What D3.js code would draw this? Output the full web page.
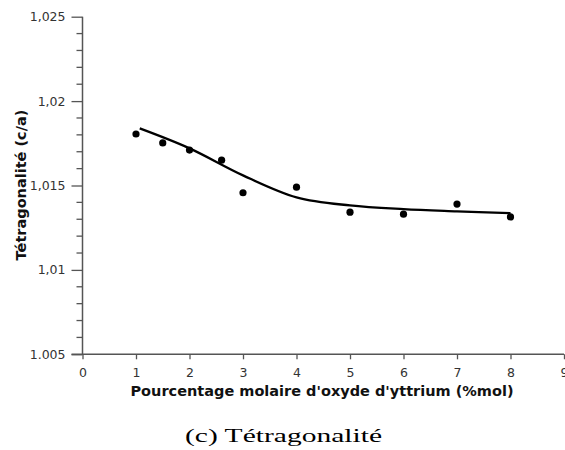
<!DOCTYPE html>
<html><head><meta charset="utf-8">
<script src="https://cdn.jsdelivr.net/npm/d3@7"></script>
<style>body{margin:0;background:#fff}svg{display:block}</style>
</head><body>
<svg id="c" width="565" height="450"></svg>
<script>
const xValues = [1, 1.5, 2, 2.6, 3, 4, 5, 6, 7, 8];
const yValues = [1.01805, 1.01752, 1.0171, 1.0165, 1.01457, 1.0149, 1.01342, 1.0133, 1.0139, 1.01314];
const fitX = [1.07, 2.0, 3.0, 4.0, 5.0, 6.0, 7.0, 8.0];
const fitY = [1.01838, 1.0172, 1.0156, 1.0143, 1.01382, 1.0136, 1.01347, 1.01336];
const xTicks = [0,1,2,3,4,5,6,7,8,9];
const yTicks = [1.005, 1.01, 1.015, 1.02, 1.025];
const yTickLabels = ["1.005", "1,01", "1,015", "1,02", "1,025"];
const xTitle = "Pourcentage molaire d'oxyde d'yttrium (%mol)";
const yTitle = "Tétragonalité (c/a)";
const caption = "(c) Tétragonalité";

const svg = d3.select("#c");
const x = d3.scaleLinear().domain([0, 9]).range([82.5, 564]);
const y = d3.scaleLinear().domain([1.005, 1.025]).range([354.3, 16.7]);
const axisColor = "#555";
const font = "'DejaVu Sans', Verdana, sans-serif";

const yMinor = d3.range(1.005, 1.02501, 0.001).filter(v => !yTicks.some(t => Math.abs(t - v) < 1e-9));
const gy = svg.append("g").attr("transform", `translate(${x(0)},0)`);
gy.call(d3.axisLeft(y).tickValues(yTicks).tickFormat((d,i) => yTickLabels[i]).tickSize(11).tickPadding(6));
gy.selectAll("line.minor").data(yMinor).enter().append("line")
  .attr("x1", -6).attr("x2", 0).attr("y1", d => y(d)).attr("y2", d => y(d))
  .attr("stroke", axisColor).attr("stroke-width", 1.3);
gy.select(".domain").attr("stroke", axisColor).attr("stroke-width", 1.5).attr("d", `M0,${y(1.025)}V${y(1.005)}`);
gy.selectAll(".tick line").attr("stroke", axisColor).attr("stroke-width", 1.3);
gy.selectAll(".tick text").attr("fill", "#333").style("font-family", font).style("font-size", "12.5px");

const gx = svg.append("g").attr("transform", `translate(0,${y(1.005)})`);
gx.call(d3.axisBottom(x).tickValues(xTicks).tickFormat(d3.format("d")).tickSize(5).tickPadding(9));
gx.select(".domain").attr("stroke", axisColor).attr("stroke-width", 1.5).attr("d", `M${x(0) - 11},0H${x(9)}`);
gx.selectAll(".tick line").attr("stroke", axisColor).attr("stroke-width", 1.3);
gx.selectAll(".tick text").attr("fill", "#333").style("font-family", font).style("font-size", "12.5px");

const line = d3.line().x((d,i) => x(fitX[i])).y((d,i) => y(fitY[i])).curve(d3.curveCatmullRom.alpha(0.5));
svg.append("path").datum(fitX).attr("d", line).attr("fill", "none").attr("stroke", "#000").attr("stroke-width", 2.3);

svg.append("g").selectAll("circle").data(xValues).enter().append("circle")
  .attr("cx", (d) => x(d)).attr("cy", (d,i) => y(yValues[i])).attr("r", 3.6).attr("fill", "#000");

svg.append("text").attr("x", 322).attr("y", 396).attr("text-anchor", "middle")
  .style("font-family", font).style("font-weight", "bold").style("font-size", "14.5px").attr("fill", "#111").text(xTitle);
svg.append("text").attr("transform", "translate(26,185) rotate(-90)").attr("text-anchor", "middle")
  .style("font-family", font).style("font-weight", "bold").style("font-size", "14.5px").attr("fill", "#111").text(yTitle);
svg.append("text").attr("x", 283.5).attr("y", 441.5).attr("text-anchor", "middle")
  .attr("textLength", 197).attr("lengthAdjust", "spacingAndGlyphs")
  .style("font-family", "'Liberation Serif', serif").style("font-size", "19.5px").attr("fill", "#000").text(caption);
</script>
</body></html>
